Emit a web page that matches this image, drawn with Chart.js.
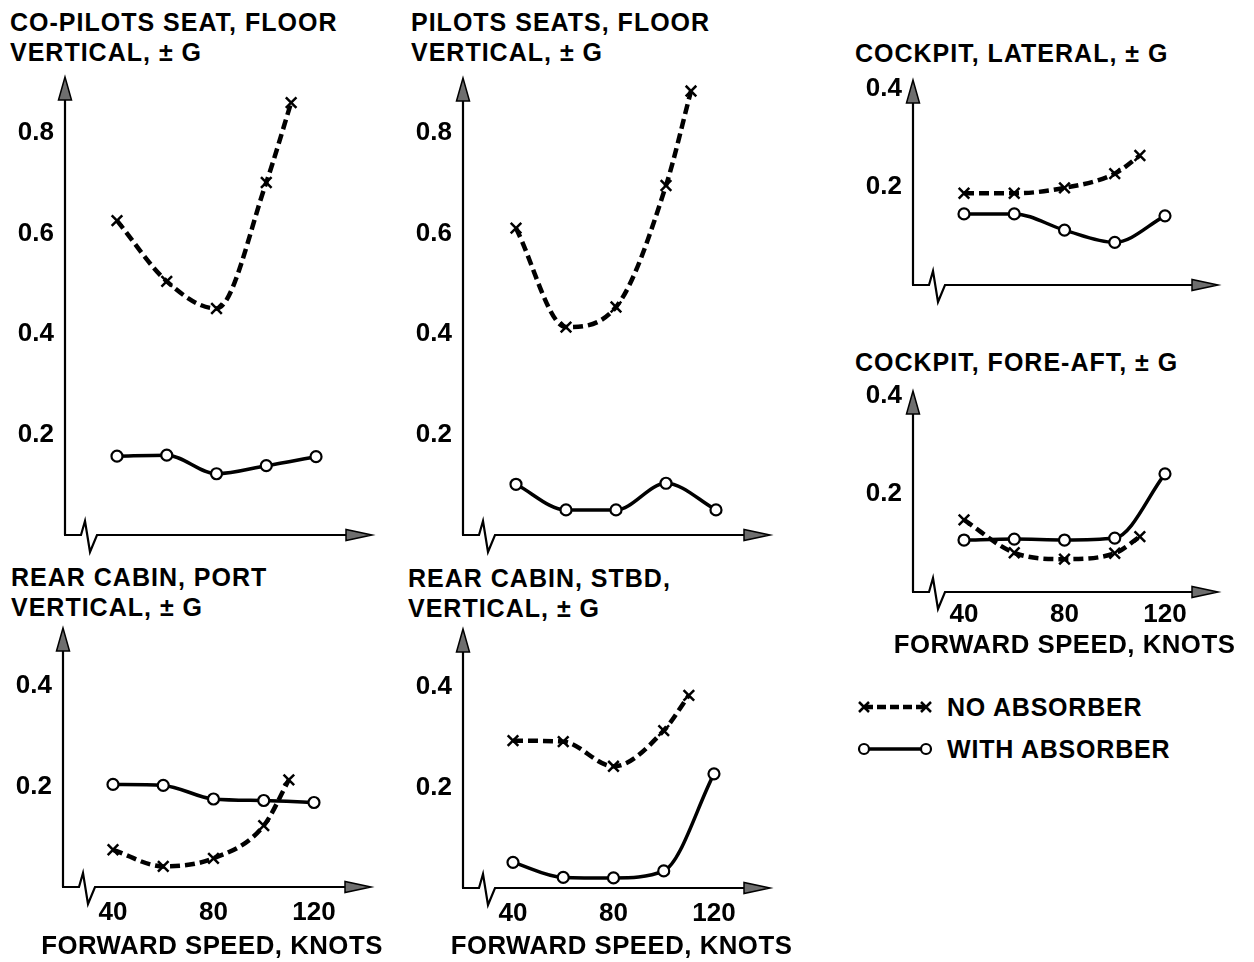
<!DOCTYPE html>
<html>
<head>
<meta charset="utf-8">
<script src="https://cdn.jsdelivr.net/npm/chart.js@4.4.1/dist/chart.umd.min.js"></script>
<style>
  html, body { margin: 0; padding: 0; background: #fff; }
  body { width: 1254px; height: 962px; position: relative; overflow: hidden;
         font-family: "Liberation Sans", Arial, Helvetica, sans-serif; }
  .ttl { position: absolute; font-weight: bold; font-size: 25px; line-height: 30px;
         letter-spacing: 1px; color: #000; white-space: nowrap; }
  canvas { position: absolute; }
  #legend { position: absolute; left: 850px; top: 686px; }
  .lg { position: absolute; left: 947px; font-weight: bold; font-size: 25px; line-height: 30px;
        letter-spacing: 0.8px; white-space: nowrap; }
</style>
</head>
<body>

<script>
// ---------------- DATA ----------------
const seriesNames = ['NO ABSORBER', 'WITH ABSORBER'];
const noAbsSpeeds = [40, 60, 80, 100, 110];
const withAbsSpeeds = [40, 60, 80, 100, 120];

const panelTitles = [
  ['CO-PILOTS SEAT, FLOOR', 'VERTICAL, \u00B1 G'],
  ['PILOTS SEATS, FLOOR', 'VERTICAL, \u00B1 G'],
  ['COCKPIT, LATERAL, \u00B1 G'],
  ['COCKPIT, FORE-AFT, \u00B1 G'],
  ['REAR CABIN, PORT', 'VERTICAL, \u00B1 G'],
  ['REAR CABIN, STBD,', 'VERTICAL, \u00B1 G']
];
const xAxisTitle = 'FORWARD SPEED, KNOTS';

const verticalTicks = [0.2, 0.4, 0.6, 0.8];
const smallTicks = [0.2, 0.4];
const speedTicks = [40, 80, 120];

const coPilotNo   = [0.626, 0.505, 0.451, 0.702, 0.861];
const coPilotWith = [0.157, 0.159, 0.122, 0.138, 0.156];
const pilotsNo    = [0.611, 0.414, 0.454, 0.696, 0.884];
const pilotsWith  = [0.101, 0.050, 0.050, 0.103, 0.050];
const lateralNo   = [0.187, 0.187, 0.198, 0.227, 0.264];
const lateralWith = [0.145, 0.145, 0.112, 0.087, 0.141];
const foreAftNo   = [0.147, 0.080, 0.067, 0.079, 0.113];
const foreAftWith = [0.106, 0.108, 0.106, 0.110, 0.241];
const portNo      = [0.074, 0.041, 0.057, 0.122, 0.213];
const portWith    = [0.204, 0.202, 0.175, 0.172, 0.168];
const stbdNo      = [0.293, 0.291, 0.242, 0.313, 0.383];
const stbdWith    = [0.051, 0.021, 0.020, 0.034, 0.227];

// ---------------- LAYOUT ----------------
const FAM = '"Liberation Sans", Arial, Helvetica, sans-serif';
const TICK_FONT = { family: FAM, size: 26, weight: 'bold', lineHeight: 1.2 };
const YW = 58, PAD_T = 14, PAD_R = 32, PAD_B = 24;
const X_TITLE_WIDTH = 342;

const panels = [
  { title: panelTitles[0], tx: 10,  ty: 7,   no: coPilotNo, wi: coPilotWith, yTicks: verticalTicks,
    L: 65,  R: 372,  T: 77,  B: 535, xMin: 19.1, xMax: 142.5, yMax: 0.912, xTicks: null },
  { title: panelTitles[1], tx: 411, ty: 7,   no: pilotsNo, wi: pilotsWith, yTicks: verticalTicks,
    L: 463, R: 770,  T: 78,  B: 535, xMin: 18.8, xMax: 141.6, yMax: 0.91, xTicks: null },
  { title: panelTitles[2], tx: 855, ty: 38,  no: lateralNo, wi: lateralWith, yTicks: smallTicks,
    L: 913, R: 1218, T: 80,  B: 285, xMin: 19.7, xMax: 141.1, yMax: 0.418, xTicks: null },
  { title: panelTitles[3], tx: 855, ty: 347, no: foreAftNo, wi: foreAftWith, yTicks: smallTicks,
    L: 913, R: 1218, T: 391, B: 592, xMin: 19.7, xMax: 141.1, yMax: 0.41, xTicks: speedTicks,
    H: 70, tpad: 7, tdx: -1, tdy: 54 },
  { title: panelTitles[4], tx: 11,  ty: 562, no: portNo, wi: portWith, yTicks: smallTicks,
    L: 63,  R: 371,  T: 628, B: 887, xMin: 20.1, xMax: 142.7, yMax: 0.515, xTicks: speedTicks,
    H: 75, tpad: 10, tdx: -5, tdy: 60 },
  { title: panelTitles[5], tx: 408, ty: 563, no: stbdNo, wi: stbdWith, yTicks: smallTicks,
    L: 463, R: 770,  T: 629, B: 888, xMin: 20.1, xMax: 142.3, yMax: 0.515, xTicks: speedTicks,
    H: 74, tpad: 10, tdx: 5, tdy: 59 }
];

// ---------------- PLUGINS ----------------
const axisArrows = {
  id: 'axisArrows',
  beforeDatasetsDraw(chart) {
    const { ctx, chartArea: { left, right, top, bottom } } = chart;
    ctx.save();
    ctx.setLineDash([]);
    ctx.strokeStyle = '#000';
    ctx.lineWidth = 2.2;
    ctx.lineJoin = 'miter';
    ctx.beginPath();
    ctx.moveTo(left, bottom);
    ctx.lineTo(left, top + 18);
    ctx.stroke();
    ctx.beginPath();
    ctx.moveTo(left - 1, bottom);
    ctx.lineTo(left + 16, bottom);
    ctx.lineTo(left + 20, bottom - 14);
    ctx.lineTo(left + 25, bottom + 17);
    ctx.lineTo(left + 32, bottom);
    ctx.lineTo(right - 20, bottom);
    ctx.stroke();
    ctx.fillStyle = '#6e6e6e';
    ctx.lineWidth = 1.5;
    ctx.beginPath();
    ctx.moveTo(left, top);
    ctx.lineTo(left - 6.5, top + 23);
    ctx.lineTo(left + 6.5, top + 23);
    ctx.closePath();
    ctx.fill(); ctx.stroke();
    ctx.beginPath();
    ctx.moveTo(right, bottom);
    ctx.lineTo(right - 26, bottom - 5.5);
    ctx.lineTo(right - 26, bottom + 5.5);
    ctx.closePath();
    ctx.fill(); ctx.stroke();
    ctx.restore();
  }
};

// x-axis title drawn without the scale's maxWidth compression
const xTitle = {
  id: 'xTitle',
  afterDraw(chart, args, opts) {
    if (!opts || !opts.text) return;
    const { ctx, chartArea } = chart;
    ctx.save();
    try { ctx.letterSpacing = '0.5px'; } catch (e) {}
    ctx.font = 'bold 25px ' + FAM;
    const w = ctx.measureText(opts.text).width;
    const size = 25 * X_TITLE_WIDTH / w;
    ctx.font = 'bold ' + size.toFixed(2) + 'px ' + FAM;
    ctx.fillStyle = '#000';
    ctx.textAlign = 'center';
    ctx.textBaseline = 'middle';
    ctx.fillText(opts.text, (chartArea.left + chartArea.right) / 2 + opts.dx, chartArea.bottom + opts.dy);
    ctx.restore();
  }
};

function noScalePadding(s) {
  s.paddingTop = 0; s.paddingBottom = 0; s.paddingLeft = 0; s.paddingRight = 0;
}

// ---------------- BUILD ----------------
function toXY(xs, ys) { return xs.map((x, i) => ({ x: x, y: ys[i] })); }

panels.forEach((p) => {
  const t = document.createElement('div');
  t.className = 'ttl';
  t.style.left = p.tx + 'px';
  t.style.top = p.ty + 'px';
  t.innerHTML = p.title.join('<br>');
  document.body.appendChild(t);

  const hasX = !!p.xTicks;
  const bottomExtra = hasX ? p.H : PAD_B;
  const w = YW + (p.R - p.L) + PAD_R;
  const h = PAD_T + (p.B - p.T) + bottomExtra;
  const cv = document.createElement('canvas');
  cv.width = w; cv.height = h;
  cv.style.left = (p.L - YW) + 'px';
  cv.style.top = (p.T - PAD_T) + 'px';
  cv.style.width = w + 'px'; cv.style.height = h + 'px';
  document.body.appendChild(cv);

  new Chart(cv.getContext('2d'), {
    type: 'line',
    data: {
      datasets: [
        {
          label: seriesNames[0],
          data: toXY(noAbsSpeeds, p.no),
          borderColor: '#000', borderWidth: 4.5, borderDash: [10, 5],
          cubicInterpolationMode: 'monotone', fill: false, clip: false,
          pointStyle: 'crossRot', pointRadius: 7.5, pointBorderWidth: 2.5,
          pointBorderColor: '#000', pointBackgroundColor: '#000'
        },
        {
          label: seriesNames[1],
          data: toXY(withAbsSpeeds, p.wi),
          borderColor: '#000', borderWidth: 3.5,
          cubicInterpolationMode: 'monotone', fill: false, clip: false,
          pointStyle: 'circle', pointRadius: 5.5, pointBorderWidth: 2.2,
          pointBorderColor: '#000', pointBackgroundColor: '#fff'
        }
      ]
    },
    options: {
      responsive: false, animation: false, devicePixelRatio: 1,
      layout: { padding: { top: PAD_T, right: PAD_R, bottom: hasX ? 0 : PAD_B, left: 0 } },
      plugins: {
        legend: { display: false }, tooltip: { enabled: false }, title: { display: false },
        xTitle: hasX ? { text: xAxisTitle, dx: p.tdx, dy: p.tdy } : { text: '' }
      },
      scales: {
        x: {
          type: 'linear', min: p.xMin, max: p.xMax, display: hasX,
          grid: { display: false, drawTicks: false }, border: { display: false },
          afterBuildTicks: s => { if (p.xTicks) s.ticks = p.xTicks.map(v => ({ value: v })); },
          afterFit: s => { if (hasX) s.height = p.H; noScalePadding(s); },
          ticks: { autoSkip: false, maxRotation: 0, padding: p.tpad || 8, color: '#000', font: TICK_FONT,
                   callback: v => String(v) },
          title: { display: false }
        },
        y: {
          type: 'linear', min: 0, max: p.yMax,
          grid: { display: false, drawTicks: false }, border: { display: false },
          afterBuildTicks: s => { s.ticks = p.yTicks.map(v => ({ value: v })); },
          afterFit: s => { s.width = YW; noScalePadding(s); },
          ticks: { autoSkip: false, padding: 11, color: '#000', font: TICK_FONT,
                   callback: v => Number(v).toFixed(1) }
        }
      }
    },
    plugins: [axisArrows, xTitle]
  });
});

// ---------------- LEGEND ----------------
const svgNS = 'http://www.w3.org/2000/svg';
const svg = document.createElementNS(svgNS, 'svg');
svg.setAttribute('id', 'legend');
svg.setAttribute('width', '100'); svg.setAttribute('height', '80');
svg.innerHTML =
  '<line x1="14" y1="21" x2="76" y2="21" stroke="#000" stroke-width="4.5" stroke-dasharray="9,4"/>' +
  '<path d="M9 16 L19 26 M19 16 L9 26 M71 16 L81 26 M81 16 L71 26" stroke="#000" stroke-width="2.5"/>' +
  '<line x1="18" y1="63" x2="72" y2="63" stroke="#000" stroke-width="3.5"/>' +
  '<circle cx="14" cy="63" r="5" fill="#fff" stroke="#000" stroke-width="2.2"/>' +
  '<circle cx="76" cy="63" r="5" fill="#fff" stroke="#000" stroke-width="2.2"/>';
document.body.appendChild(svg);
seriesNames.forEach((n, i) => {
  const d = document.createElement('div');
  d.className = 'lg';
  d.style.top = (i === 0 ? 692 : 734) + 'px';
  d.textContent = n;
  document.body.appendChild(d);
});
</script>
</body>
</html>
